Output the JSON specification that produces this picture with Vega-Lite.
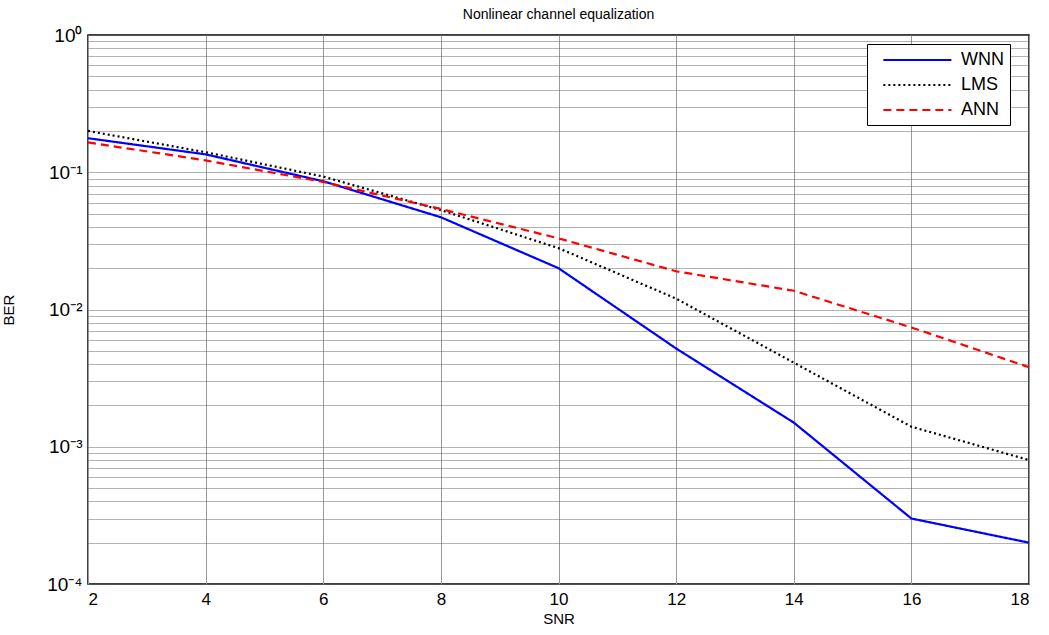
{
  "$schema": "https://vega.github.io/schema/vega-lite/v6.json",
  "autosize": {"type": "none"},
  "width": 941,
  "height": 549,
  "padding": {"left": 88, "top": 35, "right": 20, "bottom": 51},
  "background": "white",
  "title": {"text": "Nonlinear channel equalization", "font": "Liberation Sans", "fontSize": 14, "fontWeight": "normal", "color": "black", "offset": 4},
  "config": {
    "view": {"stroke": "black", "strokeWidth": 1.5},
    "font": "Liberation Sans"
  },
  "data": {
    "values": [
      {"snr": 2, "ber": 0.177, "method": "WNN"},
      {"snr": 4, "ber": 0.135, "method": "WNN"},
      {"snr": 6, "ber": 0.086, "method": "WNN"},
      {"snr": 8, "ber": 0.047, "method": "WNN"},
      {"snr": 10, "ber": 0.020, "method": "WNN"},
      {"snr": 12, "ber": 0.0052, "method": "WNN"},
      {"snr": 14, "ber": 0.0015, "method": "WNN"},
      {"snr": 16, "ber": 0.0003, "method": "WNN"},
      {"snr": 18, "ber": 0.0002, "method": "WNN"},
      {"snr": 2, "ber": 0.20, "method": "LMS"},
      {"snr": 4, "ber": 0.14, "method": "LMS"},
      {"snr": 6, "ber": 0.093, "method": "LMS"},
      {"snr": 8, "ber": 0.053, "method": "LMS"},
      {"snr": 10, "ber": 0.028, "method": "LMS"},
      {"snr": 12, "ber": 0.012, "method": "LMS"},
      {"snr": 14, "ber": 0.0041, "method": "LMS"},
      {"snr": 16, "ber": 0.0014, "method": "LMS"},
      {"snr": 18, "ber": 0.0008, "method": "LMS"},
      {"snr": 2, "ber": 0.165, "method": "ANN"},
      {"snr": 4, "ber": 0.122, "method": "ANN"},
      {"snr": 6, "ber": 0.085, "method": "ANN"},
      {"snr": 8, "ber": 0.054, "method": "ANN"},
      {"snr": 10, "ber": 0.033, "method": "ANN"},
      {"snr": 12, "ber": 0.019, "method": "ANN"},
      {"snr": 14, "ber": 0.0137, "method": "ANN"},
      {"snr": 16, "ber": 0.0074, "method": "ANN"},
      {"snr": 18, "ber": 0.0038, "method": "ANN"}
    ]
  },
  "mark": {"type": "line", "strokeWidth": 2.2},
  "encoding": {
    "x": {
      "field": "snr", "type": "quantitative",
      "scale": {"domain": [2, 18], "nice": false, "zero": false},
      "axis": {
        "title": "SNR", "titleFont": "Liberation Sans", "titleFontSize": 15, "titleFontWeight": "normal", "titleColor": "black", "titlePadding": 4,
        "values": [2, 4, 6, 8, 10, 12, 14, 16, 18],
        "labelFontSize": 17, "labelColor": "black", "labelPadding": 7,
        "domain": false, "ticks": false,
        "grid": true, "gridColor": "#999999", "gridWidth": 1, "gridOpacity": 1
      }
    },
    "y": {
      "field": "ber", "type": "quantitative",
      "scale": {"type": "log", "domain": [0.0001, 1], "nice": false},
      "axis": {
        "title": "BER", "titleFont": "Liberation Sans", "titleFontSize": 15, "titleFontWeight": "normal", "titleColor": "black", "titlePadding": 30,
        "values": [0.0001, 0.0002, 0.0003, 0.0004, 0.0005, 0.0006, 0.0007, 0.0008, 0.0009,
                   0.001, 0.002, 0.003, 0.004, 0.005, 0.006, 0.007, 0.008, 0.009,
                   0.01, 0.02, 0.03, 0.04, 0.05, 0.06, 0.07, 0.08, 0.09,
                   0.1, 0.2, 0.3, 0.4, 0.5, 0.6, 0.7, 0.8, 0.9, 1],
        "labelExpr": "abs(log(datum.value)/LN10 - round(log(datum.value)/LN10)) < 1e-6 ? ['10⁰','10⁻¹','10⁻²','10⁻³','10⁻⁴'][-round(log(datum.value)/LN10)] : ''",
        "labelFontSize": 19, "labelColor": "black", "labelPadding": 6,
        "domain": false, "ticks": false,
        "grid": true, "gridColor": "#666666", "gridWidth": 1, "gridDash": [1, 1], "gridOpacity": 1
      }
    },
    "color": {
      "field": "method", "type": "nominal",
      "scale": {"domain": ["WNN", "LMS", "ANN"], "range": ["#0000ff", "#000000", "#ff0000"]},
      "legend": {
        "title": null, "orient": "none", "legendX": 779, "legendY": 9,
        "symbolType": "M0.04,0H7.9", "symbolSize": 300, "symbolStrokeWidth": 2,
        "labelFontSize": 18, "labelColor": "black", "labelOffset": 68,
        "rowPadding": 6, "padding": 6,
        "strokeColor": "black", "fillColor": "white"
      }
    },
    "strokeDash": {
      "field": "method", "type": "nominal",
      "scale": {"domain": ["WNN", "LMS", "ANN"], "range": [[1, 0], [2, 3], [8, 5]]},
      "legend": {
        "title": null, "orient": "none", "legendX": 779, "legendY": 9,
        "symbolType": "M0.04,0H7.9", "symbolSize": 300, "symbolStrokeWidth": 2,
        "labelFontSize": 18, "labelColor": "black", "labelOffset": 68,
        "rowPadding": 6, "padding": 6,
        "strokeColor": "black", "fillColor": "white"
      }
    }
  }
}
